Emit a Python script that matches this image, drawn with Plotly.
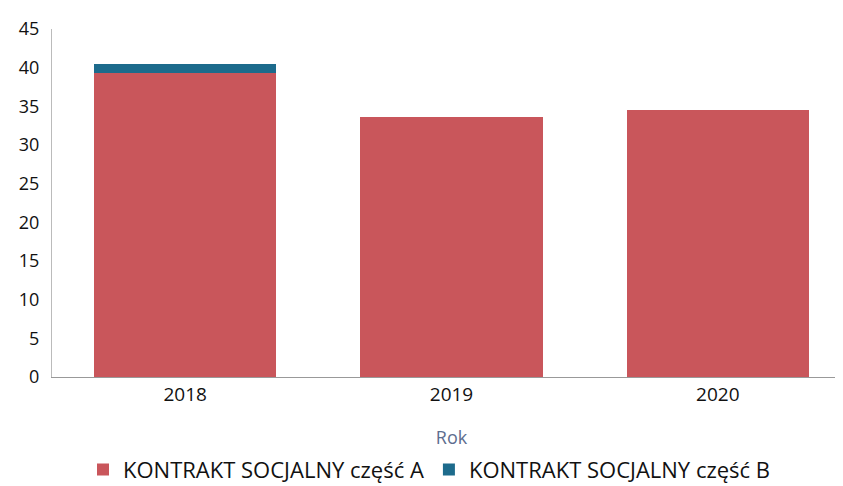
import plotly.graph_objects as go

years = ["2018", "2019", "2020"]
czesc_a = [39.3, 33.6, 34.5]
czesc_b = [1.2, 0, 0]
y_ticks = [0, 5, 10, 15, 20, 25, 30, 35, 40, 45]

fig = go.Figure()
fig.add_trace(go.Bar(x=years, y=czesc_a, name="KONTRAKT SOCJALNY część A",
                     marker=dict(color="#c9565b", line=dict(width=0))))
fig.add_trace(go.Bar(x=years, y=czesc_b, name="KONTRAKT SOCJALNY część B",
                     marker=dict(color="#1d6b8c", line=dict(width=0))))

fig.update_layout(
    barmode="stack",
    bargap=0.316,
    width=843, height=486,
    margin=dict(l=44, r=0, t=21, b=117),
    plot_bgcolor="white", paper_bgcolor="white",
    font=dict(family="Open Sans, DejaVu Sans, sans-serif", size=16, color="#111111"),
    xaxis=dict(title=dict(text="Rok", font=dict(color="#5d6d8e", size=18), standoff=25),
               showline=True, linecolor="#999999", linewidth=1, ticks="",
               tickfont=dict(size=19)),
    yaxis=dict(range=[0, 45], tickvals=y_ticks, showgrid=False, zeroline=False,
               showline=True, linecolor="#bbbbbb", linewidth=1,
               tickfont=dict(size=18), ticks="", ticklabelstandoff=8),
    legend=dict(orientation="h", x=0.5, xanchor="center", xref="container",
                y=0.05, yanchor="middle", yref="container",
                traceorder="normal",
                font=dict(size=22), itemwidth=30, tracegroupgap=0),
)

fig.write_html("out.html")
